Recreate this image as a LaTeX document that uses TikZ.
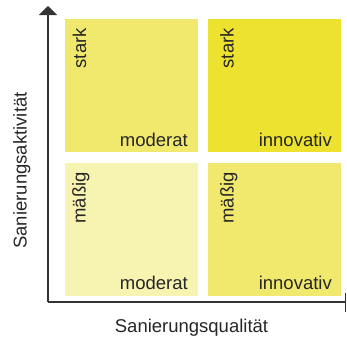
\documentclass[tikz,border=0pt]{standalone}
\usepackage{fontspec}
\setmainfont{Liberation Sans}
\usetikzlibrary{arrows.meta}
\definecolor{cmid}{HTML}{F1E96E}
\definecolor{cstrong}{HTML}{EDE22F}
\definecolor{clight}{HTML}{F7F3B1}
\definecolor{ink}{HTML}{262626}
\definecolor{axis}{HTML}{333333}
\tikzset{
  box/.style={rectangle, inner sep=0pt, minimum width=133pt, minimum height=133pt},
  lbl/.style={inner sep=0pt, text=ink, font=\fontsize{18.5}{20}\selectfont},
  axisline/.style={draw=axis, line width=1.2pt},
}
\begin{document}
\begin{tikzpicture}[x=1pt, y=-1pt]
\useasboundingbox (0,0) rectangle (347,338);
% boxes
\node[box, fill=cmid]    (tl) at (131.5, 85.5) {};
\node[box, fill=cstrong] (tr) at (274.5, 85.5) {};
\node[box, fill=clight]  (bl) at (131.5, 229.5) {};
\node[box, fill=cmid]    (br) at (274.5, 229.5) {};
% labels inside boxes
\node[lbl, rotate=90, anchor=base east] (tlv) at (86, 28) {stark};
\node[lbl, rotate=90, anchor=base east] (trv) at (233.5, 28) {stark};
\node[lbl, rotate=90, anchor=base east] (blv) at (85.5, 172) {mäßig};
\node[lbl, rotate=90, anchor=base east] (brv) at (233.5, 172) {mäßig};
\node[lbl, anchor=base east] (tlh) at (188, 146) {moderat};
\node[lbl, anchor=base east] (trh) at (332, 146) {innovativ};
\node[lbl, anchor=base east] (blh) at (188, 289) {moderat};
\node[lbl, anchor=base east] (brh) at (332, 289) {innovativ};
% axes
\coordinate (O) at (48, 302);
\coordinate (Ytop) at (48, 6);
\coordinate (Xend) at (346, 302);
\draw[axisline, -{Triangle[width=18pt,length=9pt]}] (O) -- (Ytop);
\draw[axisline, -{Bar[width=19pt]}] (O) -- (Xend);
% axis titles
\node[lbl, anchor=base] (xt) at (191.5, 332) {Sanierungsqualität};
\node[lbl, rotate=90, anchor=base] (yt) at (26.5, 170.5) {Sanierungsaktivität};
\end{tikzpicture}
\end{document}
